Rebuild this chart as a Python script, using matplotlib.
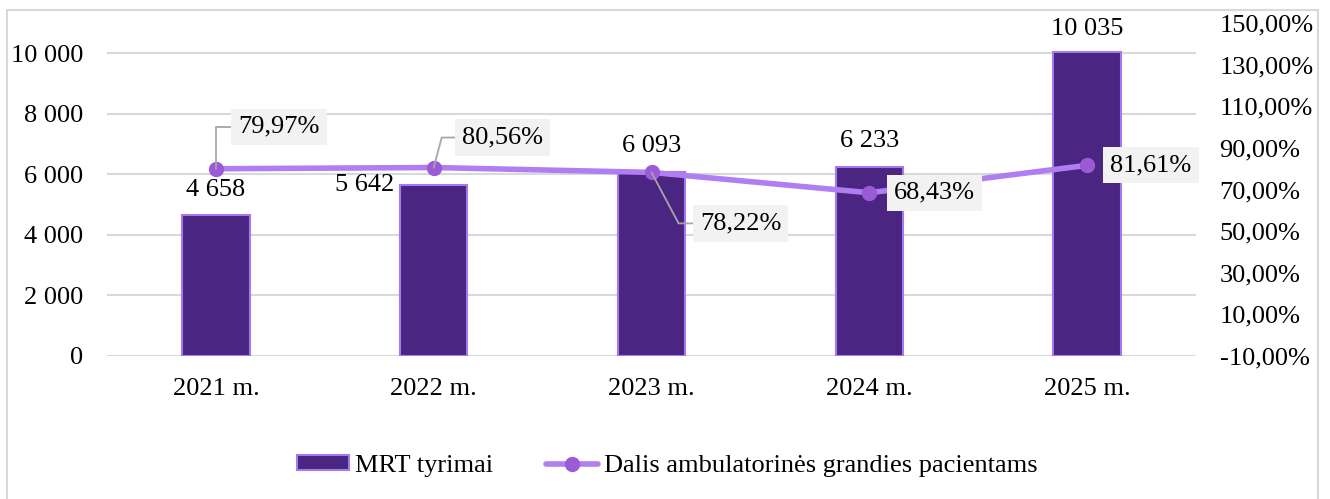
import matplotlib
matplotlib.use("Agg")
import matplotlib.pyplot as plt
from matplotlib.patches import Rectangle, Patch
from matplotlib.lines import Line2D

# Data
years = ["2021 m.", "2022 m.", "2023 m.", "2024 m.", "2025 m."]
mrt_tests = [4658, 5642, 6093, 6233, 10035]
outpatient_share = [79.97, 80.56, 78.22, 68.43, 81.61]
left_ticks = [0, 2000, 4000, 6000, 8000, 10000]
right_ticks = [-10, 10, 30, 50, 70, 90, 110, 130, 150]

BAR_FACE = "#4A2682"
BAR_EDGE = "#A47AF0"
LINE_COLOR = "#B07EF2"
MARKER_COLOR = "#9C5BD6"
GRID = "#D9D9D9"
FS = 19

plt.rcParams["font.family"] = ["Liberation Serif", "DejaVu Serif"]

fig = plt.figure(figsize=(13.3, 4.99), dpi=100)
W, H = 1330, 499
ax = fig.add_axes([107 / W, 1 - 356 / H, (1196 - 107) / W, (356 - 23) / H])
ax2 = ax.twinx()

x = list(range(len(years)))

# Bars
bars = ax.bar(x, mrt_tests, width=0.31, color=BAR_FACE, edgecolor=BAR_EDGE,
              linewidth=1.5, zorder=2)
ax.set_ylim(0, 11000)
ax.set_xlim(-0.5, len(years) - 0.5)
ax.set_yticks(left_ticks)
ax.set_yticklabels([f"{v:,}".replace(",", " ") for v in left_ticks], fontsize=FS)
ax.set_xticks(x)
ax.set_xticklabels(years, fontsize=FS)
ax.tick_params(axis="both", length=0)
ax.tick_params(axis="y", pad=17)
ax.tick_params(axis="x", pad=16)
ax.yaxis.grid(True, color=GRID, linewidth=1.5)
ax.set_axisbelow(True)
for s in ax.spines.values():
    s.set_visible(False)

# Bar value labels
bar_offsets = [(0, 25), (-69, 0), (0, 26), (0, 26), (0, 23)]
for xi, v, (dx, dy) in zip(x, mrt_tests, bar_offsets):
    ax.annotate(f"{v:,}".replace(",", " "), xy=(xi, v), xytext=(dx, dy),
                textcoords="offset pixels", ha="center", va="center",
                fontsize=FS, color="#000000", zorder=3)

# Line on secondary axis
ax2.plot(x, outpatient_share, color=LINE_COLOR, linewidth=4.0, zorder=4,
         marker="o", markersize=10, markerfacecolor=MARKER_COLOR,
         markeredgecolor=MARKER_COLOR, solid_capstyle="round")
ax2.set_ylim(-10, 150)
ax2.set_yticks(right_ticks)
ax2.set_yticklabels([f"{v:.2f}".replace(".", ",") + "%" for v in right_ticks],
                    fontsize=FS)
ax2.tick_params(axis="y", length=0, pad=17)
for s in ax2.spines.values():
    s.set_visible(False)

# Line value labels with leader lines
label_offsets = [(63, 42), (69, 30), (89, -51), (65, 0), (64, 0)]
leader_angles = [90, 75, -62, None, None]
box = dict(boxstyle="square,pad=0.27", facecolor="#F2F2F2", edgecolor="none")
for xi, v, (dx, dy), ang in zip(x, outpatient_share, label_offsets, leader_angles):
    kw = {}
    if ang is not None:
        kw["arrowprops"] = dict(arrowstyle="-", color="#A6A6A6", lw=1.3,
                                shrinkA=0, shrinkB=0,
                                connectionstyle=f"angle,angleA=0,angleB={ang},rad=0")
    ax2.annotate(f"{v:.2f}".replace(".", ",") + "%", xy=(xi, v), xytext=(dx, dy),
                 textcoords="offset pixels", ha="center", va="center",
                 fontsize=FS, bbox=box, zorder=5, **kw)

# Legend
handles = [
    Patch(facecolor=BAR_FACE, edgecolor=BAR_EDGE, linewidth=1.5),
    Line2D([0], [0], color=LINE_COLOR, linewidth=4.0, marker="o", markersize=10,
           markerfacecolor=MARKER_COLOR, markeredgecolor=MARKER_COLOR,
           solid_capstyle="round"),
]
fig.legend(handles, ["MRT tyrimai", "Dalis ambulatorinės grandies pacientams"],
           loc="center", bbox_to_anchor=(667 / W, 1 - 466 / H), ncol=2,
           frameon=False, fontsize=FS, handlelength=2.0, handleheight=0.5,
           handletextpad=0.2, columnspacing=2.0)

# Outer chart frame
fig.patches.append(Rectangle((7 / W, -0.1), (1318 - 7) / W, (H - 10) / H + 0.1,
                             transform=fig.transFigure, fill=False,
                             edgecolor=GRID, linewidth=1.5))

fig.savefig("out.png", dpi=100)
